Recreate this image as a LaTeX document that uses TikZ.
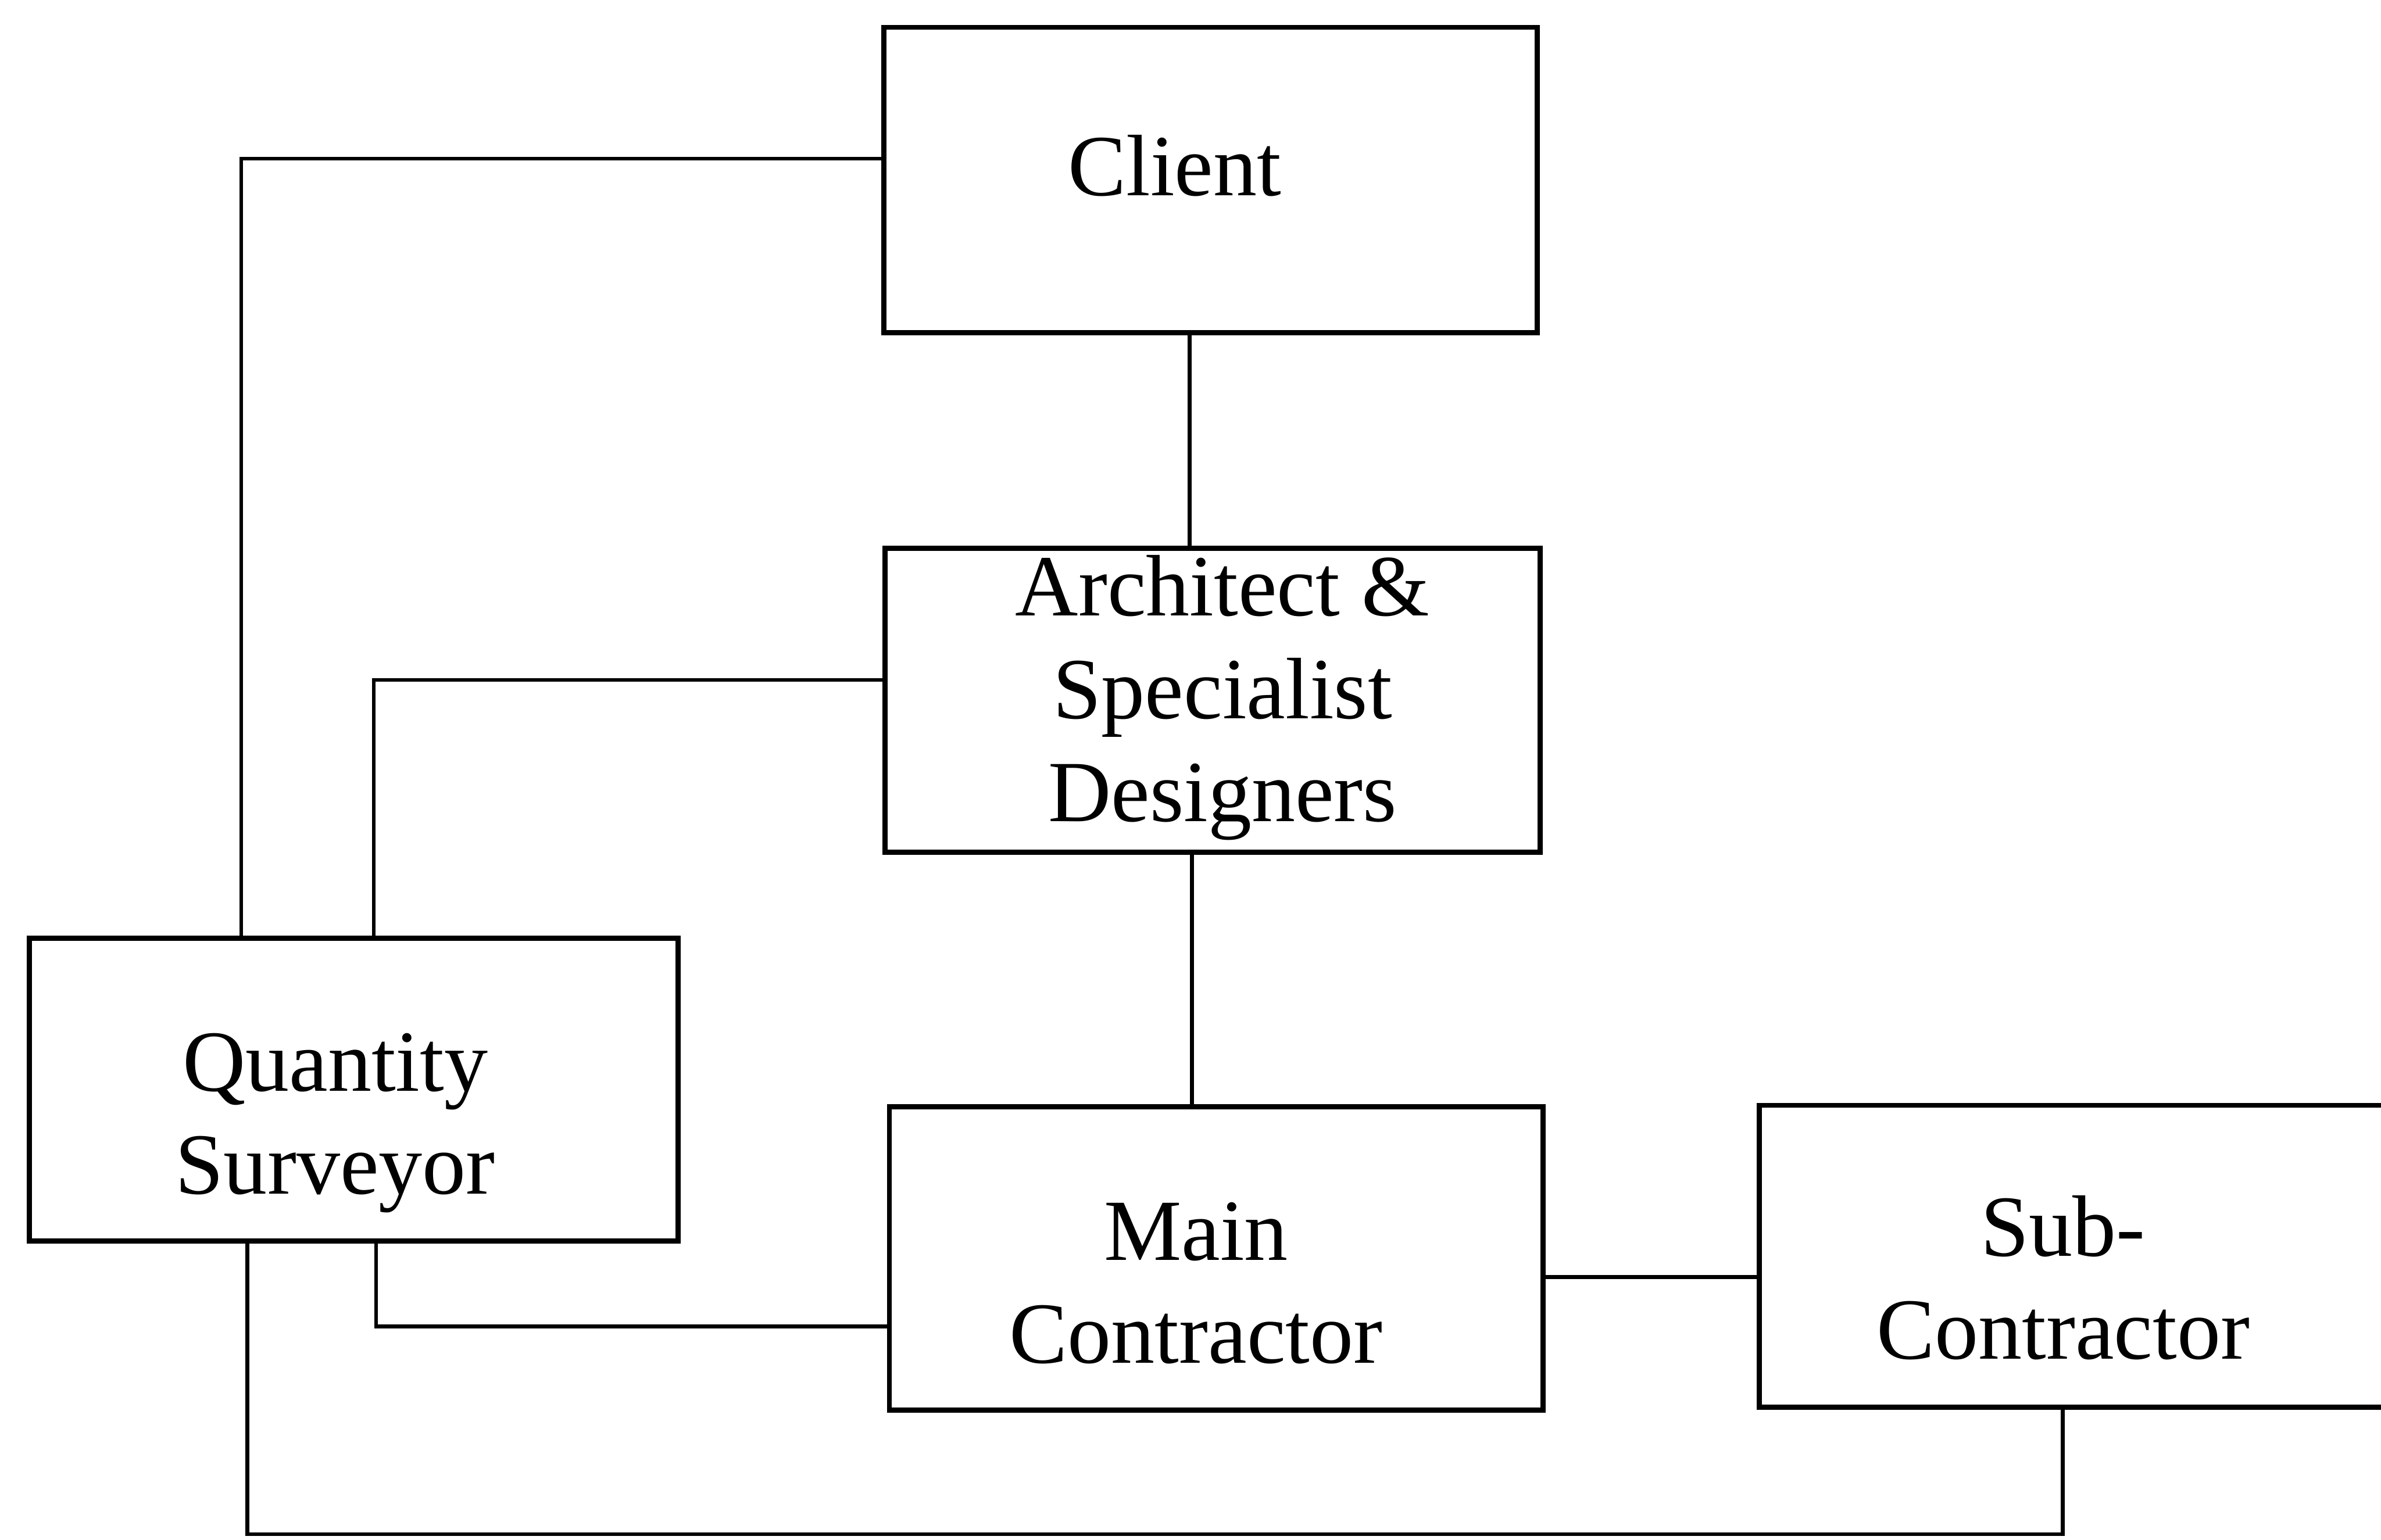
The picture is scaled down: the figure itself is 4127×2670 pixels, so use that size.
\documentclass[tikz,border=0pt]{standalone}
\usepackage{fontspec}
\setmainfont{Liberation Serif}
\begin{document}
\begin{tikzpicture}[x=0.01cm,y=-0.01cm,
  box/.style={draw, line width=2.5pt, inner sep=0pt, rectangle},
  lbl/.style={anchor=base, align=center, inner sep=0pt,
    font=\fontsize{43}{50.7}\selectfont},
  link/.style={line width=1.9pt, line cap=rect}]
\clip (0,0) rectangle (4127,2670);
\fill[white] (0,0) rectangle (4127,2670);

% boxes
\node[box, minimum width=11.32cm, minimum height=5.29cm] (client) at (2098,312) {};
\node[box, minimum width=11.35cm, minimum height=5.27cm] (arch) at (2102,1214) {};
\node[box, minimum width=11.24cm, minimum height=5.25cm] (qs) at (613,1889) {};
\node[box, minimum width=11.32cm, minimum height=5.26cm] (main) at (2108,2182) {};
\node[box, minimum width=11.50cm, minimum height=5.23cm] (sub) at (3625,2178) {};

% labels (anchored at the baseline of their last line)
\node[lbl] (clientT) at (2036,339) {Client};
\node[lbl] (archT) at (2119,1424) {Architect \&\\Specialist\\Designers};
\node[lbl] (qsT) at (581,2070) {Quantity\\Surveyor};
\node[lbl] (mainT) at (2073,2363) {Main\\Contractor};
\node[lbl] (subT) at (3576,2356) {Sub-\\Contractor};

% routing points
\coordinate (cA) at (418,275);
\coordinate (cB) at (648,1179);
\coordinate (cC) at (2062,0);
\coordinate (cD) at (2066,0);
\coordinate (cE) at (652,2300);
\coordinate (cF) at (0,2214);
\coordinate (cG) at (429,2660);
\coordinate (cH) at (3575,2660);

% connectors
\draw[link] (client.west |- cA) -| (qs.north -| cA);
\draw[link] (arch.west |- cB) -| (qs.north -| cB);
\draw[link] (client.south -| cC) -- (arch.north -| cC);
\draw[link] (arch.south -| cD) -- (main.north -| cD);
\draw[link] (qs.south -| cE) |- (main.west |- cE);
\draw[link] (main.east |- cF) -- (sub.west |- cF);
\draw[link] (qs.south -| cG) -- (cG) -- (cH) -- (sub.south -| cH);
\end{tikzpicture}
\end{document}
